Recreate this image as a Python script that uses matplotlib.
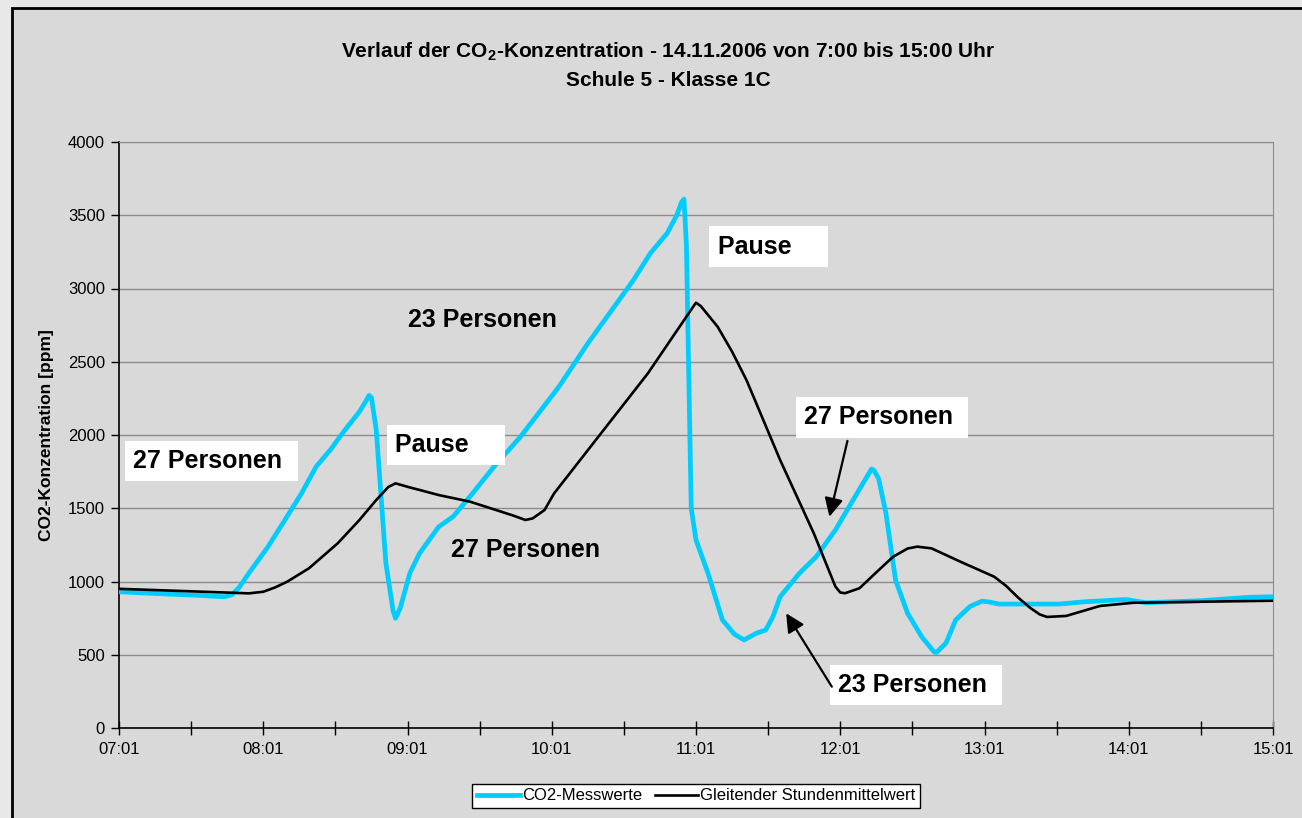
import matplotlib
matplotlib.use("Agg")
import matplotlib.pyplot as plt
from matplotlib.patches import Rectangle

plt.rcParams['font.family'] = ['Liberation Sans', 'DejaVu Sans']
plt.rcParams['mathtext.fontset'] = 'custom'
plt.rcParams['mathtext.rm'] = 'Liberation Sans'
plt.rcParams['mathtext.bf'] = 'Liberation Sans:bold'

# measured CO2 values (time of day, ppm)
co2_times = ["07:01", "07:20", "07:35", "07:42", "07:45", "07:48", "07:51", "07:55",
             "08:03", "08:10", "08:17", "08:23", "08:29", "08:34", "08:41", "08:44",
             "08:45", "08:46", "08:48", "08:52", "08:55", "08:56", "08:58", "09:02",
             "09:06", "09:14", "09:20", "09:28", "09:37", "09:48", "10:04", "10:16",
             "10:35", "10:42", "10:49", "10:53", "10:55", "10:56", "10:57", "10:58",
             "10:59", "11:01", "11:06", "11:12", "11:17", "11:21", "11:26", "11:30",
             "11:33", "11:36", "11:44", "11:51", "11:59", "12:08", "12:13", "12:14",
             "12:15", "12:17", "12:20", "12:24", "12:29", "12:35", "12:40", "12:41",
             "12:45", "12:49", "12:55", "13:00", "13:03", "13:07", "13:24", "13:32",
             "13:43", "14:00", "14:08", "14:31", "14:51", "15:01"]
co2_values = [930, 915, 905, 898, 896, 910, 960, 1056,
              1238, 1420, 1604, 1784, 1900, 2013, 2159, 2240,
              2270, 2255, 2034, 1126, 800, 749, 820, 1058,
              1192, 1374, 1443, 1600, 1784, 1988, 2330, 2625,
              3058, 3240, 3377, 3500, 3590, 3610, 3300, 2400,
              1500, 1283, 1056, 737, 640, 601, 646, 669,
              760, 896, 1056, 1169, 1352, 1602, 1740, 1768,
              1760, 1700, 1465, 1010, 783, 620, 520, 515,
              580, 737, 830, 866, 860, 846, 846, 846,
              862, 877, 855, 869, 892, 896]

# moving hourly average (time of day, ppm)
avg_times = ["07:01", "07:45", "07:55", "08:01", "08:06", "08:11", "08:20", "08:32",
             "08:41", "08:48", "08:53", "08:56", "09:02", "09:06", "09:14", "09:27",
             "09:45", "09:50", "09:53", "09:58", "10:02", "10:41", "11:00", "11:01",
             "11:03", "11:10", "11:16", "11:22", "11:36", "11:50", "11:59", "12:01",
             "12:03", "12:09", "12:17", "12:23", "12:29", "12:33", "12:39", "12:51",
             "13:05", "13:10", "13:15", "13:20", "13:24", "13:27", "13:35", "13:49",
             "14:03", "15:01"]
avg_values = [950, 925, 919, 930, 960, 999, 1090, 1261,
              1420, 1556, 1645, 1670, 1642, 1625, 1590, 1545,
              1450, 1420, 1430, 1488, 1602, 2421, 2880, 2903,
              2880, 2739, 2569, 2375, 1829, 1329, 965, 925,
              920, 954, 1078, 1169, 1225, 1238, 1226, 1135,
              1033, 970, 890, 820, 775, 758, 765, 833,
              855, 869]

tick_labels = ["07:01", "08:01", "09:01", "10:01", "11:01", "12:01", "13:01", "14:01", "15:01"]


def to_minutes(t):
    h, m = t.split(":")
    return int(h) * 60 + int(m) - 7 * 60


co2_x = [to_minutes(t) for t in co2_times]
avg_x = [to_minutes(t) for t in avg_times]

fig = plt.figure(figsize=(13.02, 8.18), dpi=100, facecolor='#E8E8E8')
fig.patches.append(Rectangle((12 / 1302, -0.05), 1.1, 1.05 - 8 / 818, transform=fig.transFigure,
                             facecolor='#D9D9D9', edgecolor='black', linewidth=2, zorder=-10))

ax = fig.add_axes([119 / 1302, 1 - 728 / 818, 1154 / 1302, 586 / 818])
ax.set_facecolor('#D9D9D9')

ax.plot(co2_x, co2_values, color='#00CCFF', linewidth=3.4, solid_joinstyle='round',
        label='CO2-Messwerte', zorder=3)
ax.plot(avg_x, avg_values, color='black', linewidth=1.9, solid_joinstyle='round',
        label='Gleitender Stundenmittelwert', zorder=4)

ax.set_xlim(1, 481)
ax.set_ylim(0, 4000)
ax.set_yticks(range(0, 4001, 500))
ax.set_xticks(range(1, 482, 30))
xlabels = []
for i in range(17):
    xlabels.append(tick_labels[i // 2] if i % 2 == 0 else "")
ax.set_xticklabels(xlabels)
ax.tick_params(axis='x', direction='inout', length=10, width=1, labelsize=12, pad=5)
ax.tick_params(axis='y', direction='out', length=6, width=1, labelsize=12, pad=4)
ax.grid(axis='y', color='#8C8C8C', linewidth=1)
ax.set_axisbelow(True)
for s in ['top', 'right']:
    ax.spines[s].set_color('#8C8C8C')
for s in ['left', 'bottom']:
    ax.spines[s].set_color('black')
    ax.spines[s].set_linewidth(1.2)

ax.set_ylabel('CO2-Konzentration [ppm]', fontsize=12.5, fontweight='bold', labelpad=10)

fig.text(0.513, 1 - 52 / 818, r'Verlauf der CO$_\mathbf{2}$-Konzentration - 14.11.2006 von 7:00 bis 15:00 Uhr',
         ha='center', va='center', fontsize=15, fontweight='bold')
fig.text(0.513, 1 - 80 / 818, 'Schule 5 - Klasse 1C', ha='center', va='center',
         fontsize=15, fontweight='bold')

box = dict(facecolor='white', edgecolor='none', pad=6)
tfont = dict(fontsize=18, fontweight='bold', va='center', ha='left', zorder=6)
ax.text(7, 1823, '27 Personen ', bbox=box, **tfont)
ax.text(116, 1932, 'Pause    ', bbox=box, **tfont)
ax.text(121, 2785, '23 Personen', **tfont)
ax.text(139, 1215, '27 Personen', **tfont)
ax.text(250, 3285, 'Pause    ', bbox=box, **tfont)
ax.text(286, 2121, '27 Personen ', bbox=box, **tfont)
ax.text(300, 293, '23 Personen ', bbox=box, **tfont)

arrow = dict(arrowstyle='-|>', color='black', lw=1.6, mutation_scale=28, shrinkA=0, shrinkB=0)
ax.annotate('', xy=(296.5, 1442), xytext=(304, 1960), arrowprops=arrow, zorder=7)
ax.annotate('', xy=(278.5, 783), xytext=(297.5, 282), arrowprops=arrow, zorder=7)

leg = fig.legend(loc='center', bbox_to_anchor=(696 / 1302, 1 - 796 / 818), ncol=2, fontsize=12,
                 frameon=True, fancybox=False, edgecolor='black', facecolor='white',
                 framealpha=1, handlelength=2.6, handletextpad=0.1, columnspacing=0.8,
                 borderpad=0.25, borderaxespad=0)
leg.get_frame().set_linewidth(1)

fig.savefig('out.png', dpi=100, facecolor=fig.get_facecolor())
